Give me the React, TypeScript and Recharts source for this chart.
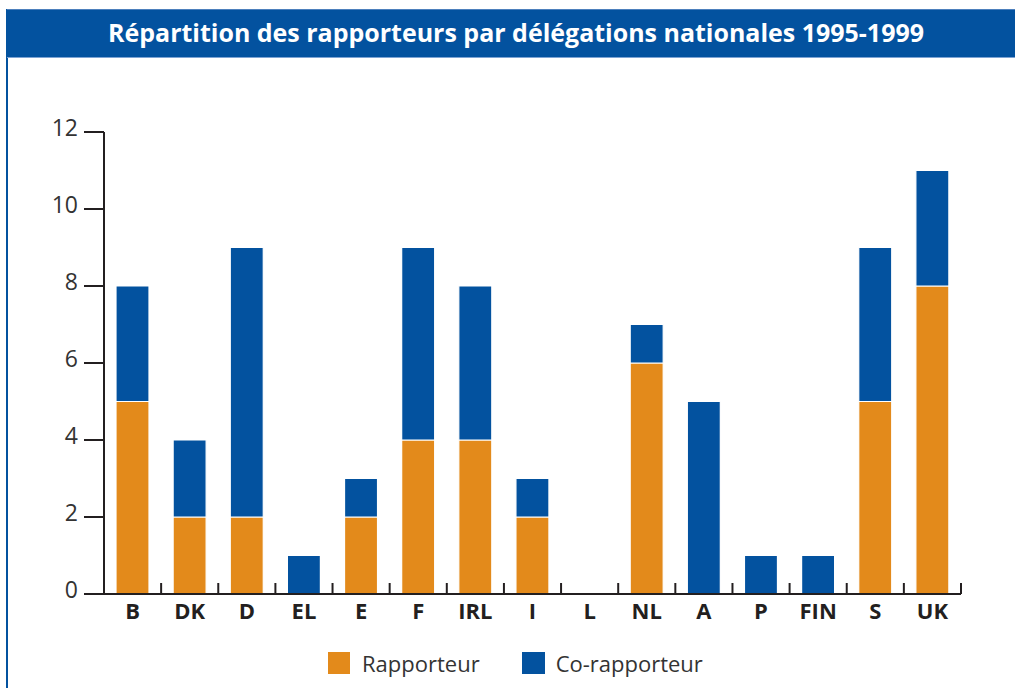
import React from "react";
import { Bar, BarChart, XAxis, YAxis } from "recharts";

const countries = ["B", "DK", "D", "EL", "E", "F", "IRL", "I", "L", "NL", "A", "P", "FIN", "S", "UK"];
const rapporteur = [5, 2, 2, 0, 2, 4, 4, 2, 0, 6, 0, 0, 0, 5, 8];
const coRapporteur = [3, 2, 7, 1, 1, 5, 4, 1, 0, 1, 5, 1, 1, 4, 3];
const yTicks = [0, 2, 4, 6, 8, 10, 12];
const boundaryTicks = countries.map((_, i) => i).concat([countries.length]);

const ORANGE = "#E38A1B";
const BLUE = "#03529F";
const INK = "#231F20";

const data = countries.map((c, i) => ({
  country: c,
  rapporteur: rapporteur[i],
  coRapporteur: coRapporteur[i],
  pos: i + 0.5,
}));

export default function App() {
  return (
    <div style={{ position: "absolute", left: 0, top: 0, width: 1015, height: 688, background: "#fff", overflow: "hidden" }}>
      <div style={{ position: "absolute", left: 6, top: 9, width: 2, height: 679, background: BLUE }} />
      <div style={{ position: "absolute", left: 7, top: 9, width: 1008, height: 49, background: BLUE, borderTop: "1px solid #4d80bd", borderBottom: "1px solid #7da3d3", boxSizing: "border-box" }}>
        <svg width={1008} height={47} style={{ display: "block" }}>
          <text x={509} y={32} textAnchor="middle" fill="#fff" fontFamily="'Liberation Sans Narrow', 'Open Sans', sans-serif" fontWeight="bold" fontSize={25} textLength={816} lengthAdjust="spacingAndGlyphs">
            Répartition des rapporteurs par délégations nationales 1995-1999
          </text>
        </svg>
      </div>

      <div style={{ position: "absolute", left: 0, top: 0 }}>
        <BarChart width={1015} height={688} data={data} margin={{ top: 132, right: 54, bottom: 93, left: 44 }} barSize={33}>
          <YAxis
            width={60}
            domain={[0, 12]}
            ticks={yTicks}
            interval={0}
            tickSize={20}
            tickMargin={6}
            axisLine={{ stroke: INK, strokeWidth: 2 }}
            tickLine={{ stroke: INK, strokeWidth: 2 }}
            tick={{ fill: "#333", fontSize: 23, fontFamily: "'Open Sans', sans-serif", dy: -4 }}
          />
          <XAxis
            xAxisId="bounds"
            type="number"
            dataKey="pos"
            domain={[0, countries.length]}
            ticks={boundaryTicks}
            interval={0}
            height={1}
            mirror
            tickSize={11}
            axisLine={false}
            tickLine={{ stroke: INK, strokeWidth: 2 }}
            tickFormatter={() => ""}
          />
          <XAxis
            dataKey="country"
            height={1}
            interval={0}
            tickLine={false}
            tickMargin={3}
            axisLine={{ stroke: INK, strokeWidth: 2 }}
            tick={{ fill: INK, fontSize: 22, fontWeight: "bold", fontFamily: "'Open Sans', sans-serif" }}
          />
          <Bar dataKey="rapporteur" stackId="a" fill={ORANGE} stroke="#fff" strokeWidth={1.2} isAnimationActive={false} />
          <Bar dataKey="coRapporteur" stackId="a" fill={BLUE} stroke="#fff" strokeWidth={1.2} isAnimationActive={false} />
        </BarChart>
      </div>

      <div style={{ position: "absolute", left: 328, top: 652, display: "flex", alignItems: "center", fontFamily: "'Open Sans', sans-serif", fontSize: 22, color: "#333" }}>
        <span style={{ width: 22, height: 22, background: ORANGE, display: "inline-block", marginRight: 12 }} />
        <span style={{ lineHeight: "22px" }}>Rapporteur</span>
        <span style={{ width: 23, height: 22, background: BLUE, display: "inline-block", marginLeft: 42, marginRight: 11 }} />
        <span style={{ lineHeight: "22px" }}>Co-rapporteur</span>
      </div>
    </div>
  );
}
